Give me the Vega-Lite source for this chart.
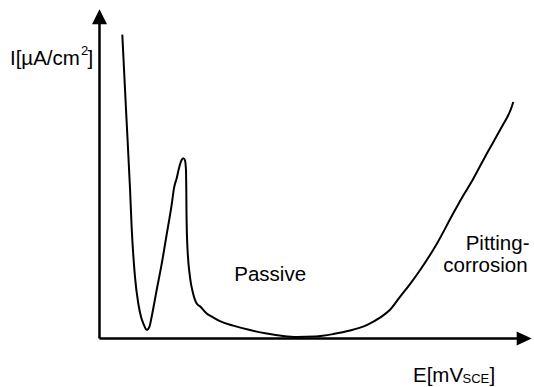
{
  "$schema": "https://vega.github.io/schema/vega-lite/v6.json",
  "width": 534,
  "height": 387,
  "autosize": {"type": "fit", "contains": "padding"},
  "padding": 0,
  "background": "white",
  "config": {"view": {"stroke": null}},
  "datasets": {
    "curve": [
      {"E": 5.28, "I": 92.33}, {"E": 6.13, "I": 69.77}, {"E": 7.06, "I": 45.71}, {"E": 7.45, "I": 33.68},
      {"E": 8.22, "I": 18.65}, {"E": 8.98, "I": 10.62}, {"E": 9.61, "I": 6.62}, {"E": 10.14, "I": 4.6},
      {"E": 10.93, "I": 2.62}, {"E": 11.57, "I": 3.61}, {"E": 12.08, "I": 6.62}, {"E": 13.24, "I": 14.74},
      {"E": 14.4, "I": 22.65}, {"E": 15.56, "I": 31.67}, {"E": 16.71, "I": 40.69}, {"E": 17.25, "I": 45.71},
      {"E": 17.87, "I": 48.72}, {"E": 18.4, "I": 51.73}, {"E": 18.98, "I": 54.14}, {"E": 19.4, "I": 54.74},
      {"E": 19.79, "I": 54.14}, {"E": 20.02, "I": 51.13}, {"E": 20.09, "I": 45.71}, {"E": 20.14, "I": 38.2},
      {"E": 20.32, "I": 28.66}, {"E": 20.95, "I": 18.65}, {"E": 21.64, "I": 13.83}, {"E": 22.5, "I": 10.62},
      {"E": 23.26, "I": 9.77}, {"E": 24.81, "I": 7.61}, {"E": 26.04, "I": 6.62}, {"E": 27.89, "I": 5.26},
      {"E": 30.97, "I": 3.91}, {"E": 34.84, "I": 2.56}, {"E": 38.7, "I": 1.5}, {"E": 42.48, "I": 0.75},
      {"E": 45.65, "I": 0.45}, {"E": 49.88, "I": 0.6}, {"E": 54.12, "I": 1.35}, {"E": 57.99, "I": 2.41},
      {"E": 61.85, "I": 4.06}, {"E": 64.93, "I": 6.32}, {"E": 67.25, "I": 8.72}, {"E": 69.56, "I": 12.63},
      {"E": 71.88, "I": 16.54}, {"E": 74.19, "I": 20.75}, {"E": 78.13, "I": 28.87}, {"E": 81.83, "I": 37.89},
      {"E": 84.14, "I": 43.31}, {"E": 86.23, "I": 47.82}, {"E": 88.08, "I": 52.33}, {"E": 89.93, "I": 56.84},
      {"E": 92.01, "I": 61.65}, {"E": 93.4, "I": 64.96}, {"E": 94.56, "I": 67.67}, {"E": 95.25, "I": 69.77},
      {"E": 95.79, "I": 71.88}
    ],
    "axes": [
      {"E": 0, "I": 0, "E2": 98.3, "I2": 0},
      {"E": 0, "I": 0, "E2": 0, "I2": 97.7}
    ],
    "arrows": [
      {"E": 0, "I": 97.74, "dir": "up"},
      {"E": 98.31, "I": 0, "dir": "right"}
    ],
    "bigText": [
      {"E": -20.72, "I": 83.22, "label": "I[µA/cm"},
      {"E": -2.78, "I": 83.22, "label": "]"},
      {"E": 72.57, "I": -13.08, "label": "E[mV"},
      {"E": 90.28, "I": -13.08, "label": "]"},
      {"E": 31.2, "I": 17.35, "label": "Passive"},
      {"E": 84.77, "I": 26.77, "label": "Pitting-"},
      {"E": 79.58, "I": 20.15, "label": "corrosion"}
    ],
    "smallText": [
      {"E": -4.28, "I": 86.17, "label": "2"},
      {"E": 84.03, "I": -13.38, "label": "SCE"}
    ]
  },
  "layer": [
    {
      "data": {"name": "axes"},
      "mark": {"type": "rule", "color": "black", "strokeWidth": 2.5},
      "encoding": {
        "x": {"field": "E", "type": "quantitative", "scale": {"domain": [-23.03, 100.58], "nice": false, "zero": false}, "axis": null},
        "y": {"field": "I", "type": "quantitative", "scale": {"domain": [-13.53, 102.86], "nice": false, "zero": false}, "axis": null},
        "x2": {"field": "E2"},
        "y2": {"field": "I2"}
      }
    },
    {
      "data": {"name": "arrows"},
      "mark": {"type": "point", "filled": true, "color": "black", "opacity": 1, "size": 225, "strokeWidth": 0},
      "encoding": {
        "x": {"field": "E", "type": "quantitative", "scale": {"domain": [-23.03, 100.58], "nice": false, "zero": false}, "axis": null},
        "y": {"field": "I", "type": "quantitative", "scale": {"domain": [-13.53, 102.86], "nice": false, "zero": false}, "axis": null},
        "shape": {"field": "dir", "type": "nominal", "scale": {"domain": ["up", "right"], "range": ["M0,-1L1,1L-1,1Z", "M1,0L-1,-0.93L-1,0.93Z"]}, "legend": null}
      }
    },
    {
      "data": {"name": "curve"},
      "mark": {"type": "line", "color": "black", "strokeWidth": 2, "interpolate": "monotone"},
      "encoding": {
        "x": {"field": "E", "type": "quantitative", "scale": {"domain": [-23.03, 100.58], "nice": false, "zero": false}, "axis": null},
        "y": {"field": "I", "type": "quantitative", "scale": {"domain": [-13.53, 102.86], "nice": false, "zero": false}, "axis": null}
      }
    },
    {
      "data": {"name": "bigText"},
      "mark": {"type": "text", "align": "left", "baseline": "alphabetic", "font": "Liberation Sans", "fontSize": 20.5, "color": "black"},
      "encoding": {
        "x": {"field": "E", "type": "quantitative", "scale": {"domain": [-23.03, 100.58], "nice": false, "zero": false}, "axis": null},
        "y": {"field": "I", "type": "quantitative", "scale": {"domain": [-13.53, 102.86], "nice": false, "zero": false}, "axis": null},
        "text": {"field": "label", "type": "nominal"}
      }
    },
    {
      "data": {"name": "smallText"},
      "mark": {"type": "text", "align": "left", "baseline": "alphabetic", "font": "Liberation Sans", "fontSize": 13, "color": "black"},
      "encoding": {
        "x": {"field": "E", "type": "quantitative", "scale": {"domain": [-23.03, 100.58], "nice": false, "zero": false}, "axis": null},
        "y": {"field": "I", "type": "quantitative", "scale": {"domain": [-13.53, 102.86], "nice": false, "zero": false}, "axis": null},
        "text": {"field": "label", "type": "nominal"}
      }
    }
  ]
}
